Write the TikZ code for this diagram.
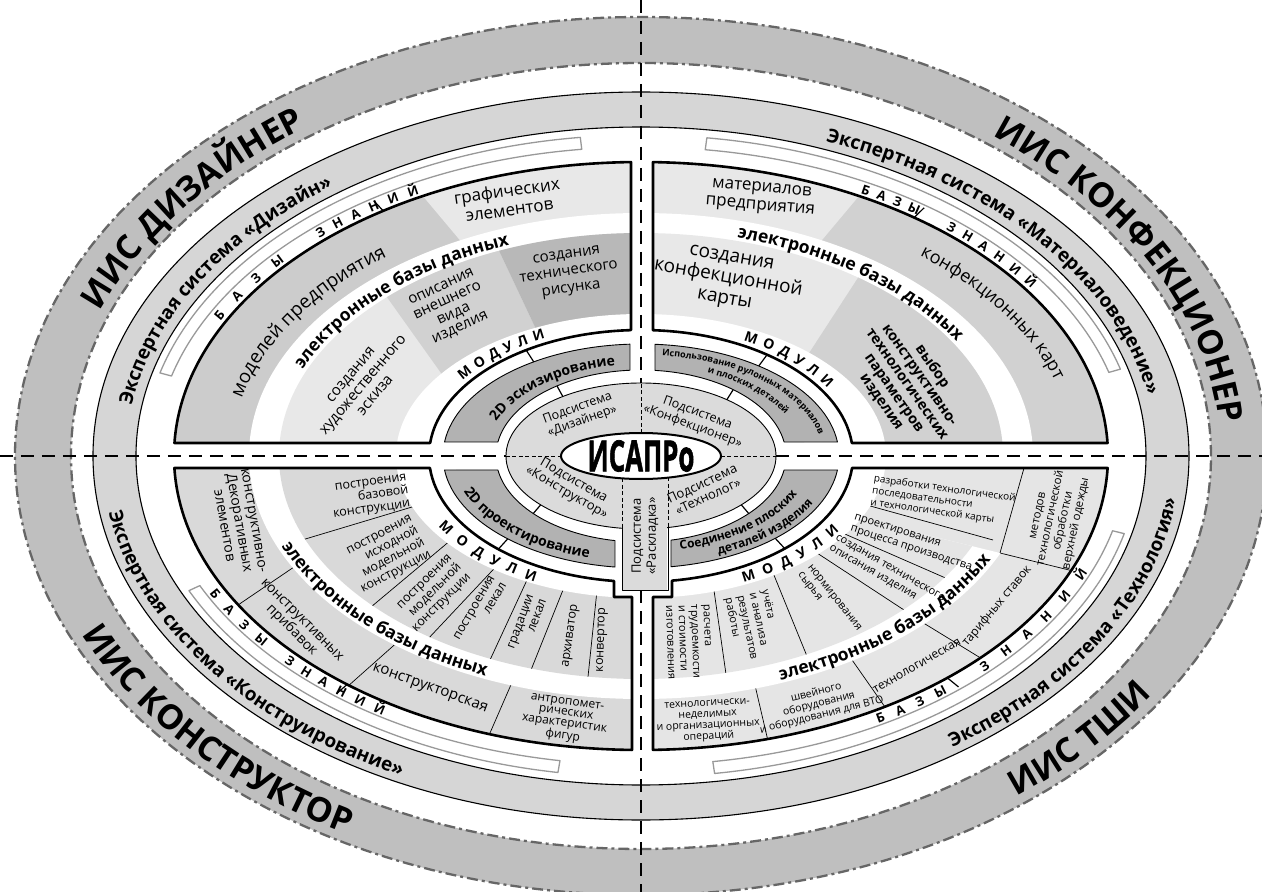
\documentclass[tikz,border=0pt]{standalone}
\usepackage{fontspec}
\setmainfont{Open Sans}
\newfontfamily\heavyfont{Open Sans}[BoldFeatures={FakeBold=1.6}]
\usepackage{graphicx}
\usetikzlibrary{decorations.text}
\newcommand\fsz[2]{\fontsize{#1}{#2}\selectfont}
\newcommand\fIIS{\bfseries\fontsize{34}{34}\selectfont}
\newcommand\fExp{\bfseries\fontsize{19}{19}\selectfont}
\newcommand\fEB{\bfseries\fontsize{17.5}{17.5}\selectfont}
\newcommand\fBZ{\bfseries\fontsize{13}{13}\selectfont}
\newcommand\fMod{\bfseries\fontsize{14}{14}\selectfont}
\newcommand\fBand{\bfseries\fontsize{14}{14}\selectfont}
\newcommand\fBandS{\bfseries\fontsize{9}{9}\selectfont}
\newcommand\fBandM{\bfseries\fontsize{12}{12}\selectfont}
\newcommand\fRegL{\fontsize{19}{19}\selectfont}
\newcommand\fRegM{\fontsize{18}{18}\selectfont}
\newcommand\arctext[7]{\path[decorate,decoration={text along path,text align={#7},text={|#5|#6}}] ({#1*cos(#3)},{#2*sin(#3)}) arc[start angle=#3,end angle=#4,x radius=#1,y radius=#2];}
\newcommand\radtick[5]{\draw[tickst] ({#1*cos(#5)},{#2*sin(#5)}) -- ({#3*cos(#5)},{#4*sin(#5)});}
\newcommand\stripseg[2]{\draw[stripst] ({498*cos(#1)},{321*sin(#1)}) arc[start angle=#1,end angle=#2,x radius=498,y radius=321] -- ({486*cos(#2)},{309*sin(#2)}) arc[start angle=#2,end angle=#1,x radius=486,y radius=309] -- cycle;}
\def\pTL{(-10,293.93) arc[start angle=91.227,end angle=177.466,x radius=467,y radius=294] -- (-210.87,13) arc[start angle=174.078,end angle=92.704,x radius=212,y radius=126] -- cycle}
\def\pTR{(12,293.90) arc[start angle=88.528,end angle=2.534,x radius=467,y radius=294] -- (210.87,13) arc[start angle=5.922,end angle=86.755,x radius=212,y radius=126] -- cycle}
\def\pBL{(-9,-141) -- (-9,-293.95) arc[start angle=268.896,end angle=182.339,x radius=467,y radius=294] -- (-211.04,-12) arc[start angle=185.465,end angle=262.683,x radius=212,y radius=126] -- (-27,-141) -- cycle}
\def\pBR{(12,-141) -- (12,-293.90) arc[start angle=271.472,end angle=357.661,x radius=467,y radius=294] -- (211.04,-12) arc[start angle=354.535,end angle=278.408,x radius=212,y radius=126] -- (31,-141) -- cycle}
\def\bTL{(-11,111.83) arc[start angle=93.185,end angle=172.819,x radius=198,y radius=112] -- (-143.07,14) arc[start angle=170.631,end angle=94.351,x radius=145,y radius=86] -- cycle}
\def\bTR{(14,111.72) arc[start angle=85.945,end angle=7.181,x radius=198,y radius=112] -- (143.07,14) arc[start angle=9.369,end angle=84.459,x radius=145,y radius=86] -- cycle}
\def\bBL{(-196.45,-14) arc[start angle=187.181,end angle=262.454,x radius=198,y radius=112] -- (-26,-84.60) arc[start angle=259.670,end angle=189.369,x radius=145,y radius=86] -- cycle}
\def\bBR{(30,-110.71) arc[start angle=278.715,end angle=352.819,x radius=198,y radius=112] -- (143.07,-14) arc[start angle=350.631,end angle=281.941,x radius=145,y radius=86] -- cycle}
\begin{document}
\begin{tikzpicture}[x=1pt,y=1pt,line join=round,
 lb/.style={align=center,inner sep=0pt},
 framest/.style={line width=2.6pt,draw=black},
 bandst/.style={fill=black!30,draw=black,line width=0.9pt},
 stripst/.style={fill=white,draw=black!40,line width=1.3pt},
 tickst/.style={line width=1.2pt},
 sep/.style={line width=0.7pt},
 axisst/.style={line width=2.8pt,dash pattern=on 13pt off 8pt},
 thindash/.style={line width=0.8pt,dash pattern=on 4pt off 2.5pt},
 ddot/.style={draw=black!60,line width=2.3pt,dash pattern=on 11pt off 4pt on 3pt off 4pt}]
\useasboundingbox (-641,-436) rectangle (621,456);
\clip (-641,-436) rectangle (621,456);
\fill[white] (-641,-436) rectangle (621,456);
% outer band
\fill[black!25,even odd rule] (0,0) ellipse[x radius=626,y radius=439] (0,0) ellipse[x radius=570,y radius=393];
\draw[ddot] (0,0) ellipse[x radius=626,y radius=439];
\draw[ddot] (0,0) ellipse[x radius=570,y radius=393];
% expert system band
\fill[black!16,even odd rule] (0,0) ellipse[x radius=548,y radius=364] (0,0) ellipse[x radius=505,y radius=329];
\draw[line width=1.1pt] (0,0) ellipse[x radius=548,y radius=364];
\draw[line width=1.1pt] (0,0) ellipse[x radius=505,y radius=329];
% white strips
\stripseg{97}{165}
\stripseg{82.4}{15.7}
\stripseg{204.8}{260.4}
\stripseg{278.5}{346}
% ---- TL quadrant
\begin{scope}
\clip \pTL;
\fill[black!20] (-480,0) rectangle (0,300);
\fill[black!9] (0,0) -- (130:700) -- (90:700) -- cycle;
\fill[white] (0,0) ellipse[x radius=392,y radius=243];
\fill[black!9] (0,0) ellipse[x radius=362,y radius=223];
\begin{scope}
\clip (0,0) ellipse[x radius=362,y radius=223];
\fill[black!18] (-314,243) -- (-143,3) -- (-65,42) -- (-188,303) -- cycle;
\fill[black!28] (-188,303) -- (-65,42) -- (0,42) -- (0,303) -- cycle;
\end{scope}
\fill[white] (0,0) ellipse[x radius=245,y radius=142];
\end{scope}
% ---- TR quadrant
\begin{scope}
\clip \pTR;
\fill[black!9] (0,0) rectangle (480,300);
\fill[black!18] (0,0) -- (50:700) -- (0:700) -- cycle;
\fill[white] (0,0) ellipse[x radius=392,y radius=243];
\fill[black!9] (0,0) ellipse[x radius=362,y radius=223];
\begin{scope}
\clip (0,0) ellipse[x radius=362,y radius=223];
\fill[black!18] (289,289) -- (94,-11) -- (600,-11) -- (600,289) -- cycle;
\end{scope}
\fill[white] (0,0) ellipse[x radius=245,y radius=142];
\end{scope}
% ---- BL quadrant
\begin{scope}
\clip \pBL;
\fill[black!15] (-480,-300) rectangle (0,0);
\draw[sep] (-479.5,-201) -- (-320.5,-93);
\draw[sep] (-361.5,-291) -- (-226.5,-171);
\draw[sep] (-181,-346) -- (-121,-208);
\fill[white] (0,0) ellipse[x radius=392,y radius=243];
\fill[black!15] (0,0) ellipse[x radius=362,y radius=223];
\begin{scope}
\clip (0,0) ellipse[x radius=362,y radius=223];
\draw[sep] (-394,-100.5) -- (-174,-34.5);
\draw[sep] (-307,-182) -- (-159,-58);
\draw[sep] (-245.5,-217.5) -- (-119.5,-83.5);
\draw[sep] (-169.5,-244) -- (-95.5,-84);
\draw[sep] (-126,-254) -- (-62,-94);
\draw[sep] (-57,-259.5) -- (-41,-105.5);
\end{scope}
\fill[white] (0,0) ellipse[x radius=245,y radius=142];
\end{scope}
% ---- BR quadrant
\begin{scope}
\clip \pBR;
\fill[black!10] (0,-300) rectangle (480,0);
\draw[sep] (138,-332) -- (113,-225);
\draw[sep] (286,-311) -- (202,-191);
\draw[sep] (411.5,-246) -- (264.5,-156);
\draw[sep] (531.5,-139.5) -- (359,-97);
\draw[sep] (359,-97) -- (385,-5);
\begin{scope}
\clip (0,-8.6) -- (700,-181) -- (700,-700) -- (0,-700) -- cycle;
\fill[white] (0,0) ellipse[x radius=392,y radius=243];
\fill[black!10] (0,0) ellipse[x radius=362,y radius=223];
\end{scope}
\begin{scope}
\clip (0,0) ellipse[x radius=362,y radius=223];
\draw[sep] (137.5,-49) -- (316,-127);
\draw[sep] (119.5,-60) -- (289,-171);
\draw[sep] (115,-75) -- (170,-210);
\draw[sep] (67,-92.5) -- (86,-225);
\end{scope}
\draw[sep] (157,-30) -- (352,-84);
\fill[white] (0,0) ellipse[x radius=245,y radius=142];
\end{scope}
% frames
\draw[framest] \pTL;
\draw[framest] \pTR;
\draw[framest] \pBL;
\draw[framest] \pBR;
% knowledge-base ticks
\radtick{467}{294}{484}{306}{123.5}
\radtick{467}{294}{484}{306}{54.2}
\radtick{467}{294}{484}{306}{231}
\radtick{467}{294}{484}{306}{311}
% module bands
\draw[bandst] \bTL;
\draw[bandst] \bTR;
\draw[bandst] \bBL;
\draw[bandst] \bBR;
% subsystems
\draw[fill=black!14,line width=0.9pt] (0,0) ellipse[x radius=135,y radius=73];
\fill[black!14] (-18.5,-60) rectangle (26.5,-134.4);
\draw[line width=0.9pt] (-19,-72.27) -- (-19,-134) -- (27,-134) -- (27,-71.52);
\draw[thindash] (-135,0) -- (-80,0);
\draw[thindash] (80,0) -- (135,0);
\draw[thindash] (0,23) -- (0,73);
\draw[thindash] (-19,-22) -- (-19,-72.27);
\draw[thindash] (27,-21) -- (27,-71.52);
\draw[fill=white,line width=2pt] (0,0) ellipse[x radius=80,y radius=23];
% connector ticks
\radtick{212}{126}{198}{112}{122.8}
\radtick{145}{86}{135}{73}{125.4}
\radtick{212}{126}{198}{112}{53.5}
\radtick{145}{86}{135}{73}{50.5}
\radtick{212}{126}{198}{112}{227.7}
\radtick{145}{86}{135}{73}{222}
\radtick{212}{126}{198}{112}{312.7}
\radtick{145}{86}{135}{73}{318}
% axes
\draw[axisst] (-641,0) -- (-135,0);
\draw[axisst] (135,0) -- (621,0);
\draw[axisst] (0,456) -- (0,73);
\draw[axisst] (0,-134) -- (0,-436);
% ---- texts on rings
\arctext{580}{402}{167}{119}{\fIIS}{ИИС ДИЗАЙНЕР}{center}
\arctext{580}{402}{57}{-1}{\fIIS}{ИИС КОНФЕКЦИОНЕР}{center}
\arctext{614}{431}{196}{248}{\fIIS}{ИИС КОНСТРУКТОР}{center}
\arctext{614}{431}{298}{338}{\fIIS}{ИИС ТШИ}{center}
\arctext{515}{337}{178}{122}{\fExp}{Экспертная система «Дизайн»}{center}
\arctext{515}{337}{72}{6}{\fExp}{Экспертная система «Материаловедение»}{center}
\arctext{539}{357}{174}{254}{\fExp}{Экспертная система «Конструирование»}{center}
\arctext{539}{357}{296}{366}{\fExp}{Экспертная система «Технология»}{center}
\arctext{472}{297}{153}{139}{\fBZ}{БАЗЫ}{fit to path}
\arctext{472}{297}{133}{118}{\fBZ}{ЗНАНИЙ}{fit to path}
\arctext{472}{297}{62.3}{54.1}{\fBZ}{БАЗЫ}{fit to path}
\arctext{472}{297}{49.8}{34.2}{\fBZ}{ЗНАНИЙ}{fit to path}
\arctext{483}{307}{206.6}{218.5}{\fBZ}{БАЗЫ}{fit to path}
\arctext{483}{307}{222.3}{237.7}{\fBZ}{ЗНАНИЙ}{fit to path}
\arctext{483}{307}{299.4}{309.4}{\fBZ}{БАЗЫ}{fit to path}
\arctext{483}{307}{315.2}{337.7}{\fBZ}{ЗНАНИЙ}{fit to path}
\arctext{366}{226}{162}{108}{\fEB}{электронные базы данных}{center}
\arctext{366}{226}{78}{26}{\fEB}{электронные базы данных}{center}
\arctext{388}{240}{194}{252}{\fEB}{электронные базы данных}{center}
\arctext{388}{240}{285}{343}{\fEB}{электронные базы данных}{center}
\arctext{218}{131}{145}{116}{\fMod}{МОДУЛИ}{fit to path}
\arctext{218}{131}{62}{31}{\fMod}{МОДУЛИ}{fit to path}
\arctext{234}{141}{210}{243}{\fMod}{МОДУЛИ}{fit to path}
\arctext{234}{141}{296}{328}{\fMod}{МОДУЛИ}{fit to path}
\arctext{156}{92}{165}{95}{\fBand}{2D эскизирование}{center}
\arctext{182}{101}{88}{4}{\fBandS}{Использование рулонных материалов}{center}
\arctext{162}{91}{72}{18}{\fBandS}{и плоских деталей}{center}
\arctext{188}{106}{186}{262}{\fBand}{2D проектирование}{center}
\arctext{170}{96}{280}{342}{\fBandM}{Соединение плоских}{center}
\arctext{191}{108}{290}{340}{\fBandM}{деталей изделия}{center}
\arctext{410}{254}{170}{126}{\fRegL}{моделей предприятия}{center}
\arctext{432}{262}{56}{8}{\fRegM}{конфекционных карт}{center}
% ---- TL nodes
\node[lb,rotate=8,font=\fsz{17}{19}] (tl1) at (-133,256) {графических\\элементов};
\node[lb,rotate=50,font=\fsz{15}{16}] (tl2) at (-278,71) {создания\\художественного\\эскиза};
\node[lb,rotate=25,font=\fsz{15}{15}] (tl3) at (-190,148) {описания\\внешнего\\вида\\изделия};
\node[lb,rotate=8,font=\fsz{15}{17}] (tl4) at (-72,183) {создания\\технического\\рисунка};
% ---- TR nodes
\node[lb,rotate=-5,font=\fsz{17}{18}] (tr1) at (120,258) {материалов\\предприятия};
\node[lb,rotate=-10,font=\fsz{19}{21}] (tr2) at (87,176) {создания\\конфекционной\\карты};
\node[lb,rotate=-55,font=\bfseries\fsz{14.5}{15.5}] (tr3) at (266,72) {выбор\\конструктивно-\\технологических\\параметров\\изделия};
% ---- subsystems
\node[lb,rotate=20,font=\fsz{12.5}{14}] (s1) at (-61,41) {Подсистема\\«Дизайнер»};
\node[lb,rotate=-20,font=\fsz{12.5}{14}] (s2) at (54,36) {Подсистема\\«Конфекционер»};
\node[lb,rotate=-30,font=\fsz{13}{14}] (s3) at (-71,-31) {Подсистема\\«Конструктор»};
\node[lb,rotate=25,font=\fsz{13}{14}] (s4) at (64,-34) {Подсистема\\«Технолог»};
\node[lb,rotate=90,font=\fsz{13}{15}] (s5) at (4,-80) {Подсистема\\«Раскладка»};
\node (isapro) at (0,0) {\scalebox{0.6}[1]{\heavyfont\bfseries\fsz{43}{43}ИСАПРо}};
% ---- BL nodes
\node[lb,rotate=-80,font=\fsz{14}{15}] (bl1) at (-402,-67) {конструктивно-\\Декоративных\\элементов};
\node[lb,rotate=-45,font=\fsz{14}{15}] (bl2) at (-345,-170) {конструктивных\\прибавок};
\node[lb,rotate=-20,font=\fsz{15}{16}] (bl3) at (-211,-233) {конструкторская};
\node[lb,rotate=-8,font=\fsz{12}{11}] (bl4) at (-76,-264) {антропомет-\\рических\\характеристик\\фигур};
\node[lb,align=right,rotate=8,font=\fsz{12.5}{13.5}] (bl5) at (-271,-41) {построения\\базовой\\конструкции};
\node[lb,align=right,rotate=28,font=\fsz{12.5}{13.5}] (bl6) at (-254,-99) {построения\\исходной\\модельной\\конструкции};
\node[lb,align=right,rotate=45,font=\fsz{12.5}{13.5}] (bl7) at (-208,-138) {построения\\модельной\\конструкции};
\node[lb,align=right,rotate=60,font=\fsz{12.5}{13.5}] (bl8) at (-161,-155) {построения\\лекал};
\node[lb,align=right,rotate=70,font=\fsz{12.5}{13.5}] (bl9) at (-114,-168) {градации\\лекал};
\node[lb,rotate=82,font=\fsz{12.5}{13.5}] (bl10) at (-70,-180) {архиватор};
\node[lb,rotate=88,font=\fsz{12.5}{13.5}] (bl11) at (-39,-184) {конвертор};
% ---- BR nodes
\node[lb,align=left,rotate=-8,font=\fsz{10}{12}] (br1) at (302,-45) {разработки технологической\\последовательности\\и технологической карты};
\node[lb,align=left,rotate=-18,font=\fsz{11}{12.5}] (br2) at (272,-87) {проектирования\\процесса производства};
\node[lb,align=left,rotate=-30,font=\fsz{11}{12.5}] (br3) at (246,-118) {создания технического\\описания изделия};
\node[lb,align=left,rotate=-52,font=\fsz{11}{12.5}] (br4) at (188,-146) {нормирования\\сырья};
\node[lb,align=left,rotate=-78,font=\fsz{11}{12.5}] (br5) at (112,-170) {учёта\\и анализа\\результатов\\работы};
\node[lb,align=left,rotate=-88,font=\fsz{11}{12.5}] (br6) at (48,-186) {расчета\\трудоемкости\\и стоимости\\изготовления};
\node[lb,rotate=3,font=\fsz{10.5}{11}] (br7) at (67,-265) {технологически-\\неделимых\\и организационных\\операций};
\node[lb,rotate=14,font=\fsz{10.5}{11.5}] (br8) at (178,-248) {швейного\\оборудования\\и оборудования для ВТО};
\node[lb,rotate=30,font=\fsz{12}{13}] (br9) at (276,-210) {технологическая};
\node[lb,rotate=50,font=\fsz{12}{13}] (br10) at (356,-150) {тарифных ставок};
\node[lb,rotate=78,font=\fsz{11.5}{13}] (br11) at (417,-64) {методов\\технологической\\обработки\\верхней одежды};
\end{tikzpicture}
\end{document}
